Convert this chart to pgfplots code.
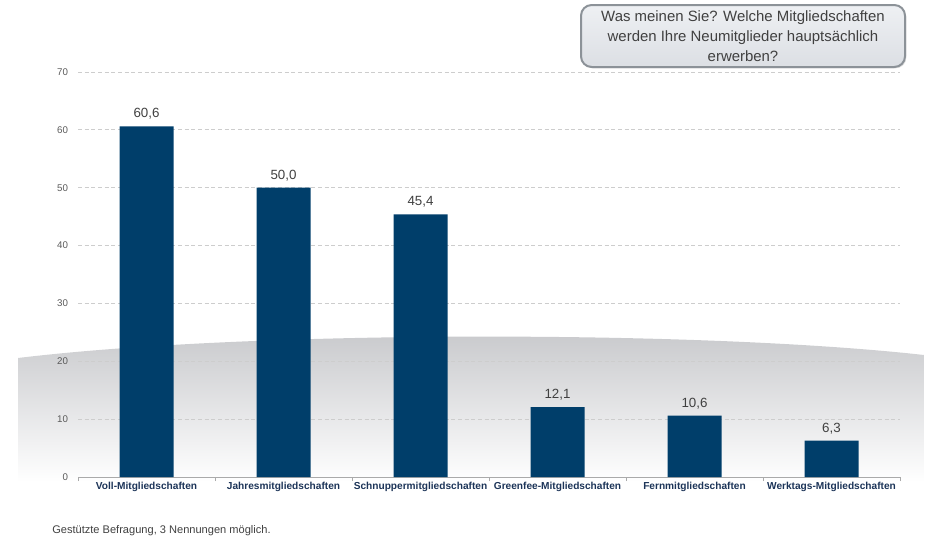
\documentclass[border=0pt]{standalone}
\usepackage{pgfplots}
\pgfplotsset{compat=1.18}
\usepackage{fontspec}
\setmainfont{Liberation Sans}
\usetikzlibrary{shadows}
\definecolor{barblue}{RGB}{0,62,106}
\definecolor{lblblue}{RGB}{28,52,88}
\definecolor{txtgray}{RGB}{64,64,64}
\definecolor{tickgray}{RGB}{90,90,90}
\definecolor{gridgray}{RGB}{205,205,205}
\definecolor{axgray}{RGB}{170,170,170}
\definecolor{shadegray}{RGB}{200,201,204}
\definecolor{boxborder}{RGB}{140,146,152}
\definecolor{boxtop}{RGB}{238,240,243}
\definecolor{boxbot}{RGB}{220,223,228}
\begin{document}
\begin{tikzpicture}[x=0.75pt,y=-0.75pt]
\useasboundingbox (0,0) rectangle (928,539);
\shade[top color=shadegray, bottom color=white] (18,482) -- (18,358) .. controls (250,330) and (700,330) .. (924,355) -- (924,482) -- cycle;
\begin{axis}[
  at={(58.5pt,-357.75pt)}, anchor=south west,
  scale only axis, width=616.5pt, height=303.75pt,
  xmin=-0.5, xmax=5.5, ymin=0, ymax=70,
  ytick={0,10,...,70},
  xtick={0,...,5},
  xticklabels={Voll-Mitgliedschaften,Jahresmitgliedschaften,Schnuppermitgliedschaften,Greenfee-Mitgliedschaften,Fernmitgliedschaften,Werktags-Mitgliedschaften},
  axis x line*=bottom, axis y line*=left,
  x axis line style={-, draw=axgray},
  y axis line style={draw=none},
  ymajorgrids,
  grid style={gridgray, dash pattern=on 3pt off 2pt, line width=0.6pt},
  major tick length=0pt,
  extra x ticks={-0.5,0.5,1.5,2.5,3.5,4.5,5.5},
  extra x tick labels={},
  extra x tick style={major tick length=3pt, tick align=outside, tick style={draw=axgray}},
  /pgf/number format/assume math mode=true,
  y tick label style={font=\fontsize{7.3}{8}\selectfont, text=tickgray, xshift=-4pt},
  x tick label style={font=\bfseries\fontsize{7.6}{9}\selectfont, text=lblblue},
  ybar, bar width=40.5pt,
  nodes near coords={\pgfmathprintnumber[fixed,fixed zerofill,precision=1,use comma]{\pgfplotspointmeta}},
  every node near coord/.append style={font=\fontsize{10}{11}\selectfont, text=txtgray, yshift=1.5pt},
]
\addplot[fill=barblue, draw=none] coordinates {(0,60.6) (1,50.0) (2,45.4) (3,12.1) (4,10.6) (5,6.3)};
\end{axis}
\node[draw=boxborder, line width=1.5pt, rounded corners=8pt, top color=boxtop, bottom color=boxbot,
  drop shadow={opacity=0.25, shadow xshift=1pt, shadow yshift=-1pt},
  minimum width=243pt, minimum height=46.5pt, align=center, inner sep=0pt,
  font=\fontsize{11.2}{15.2}\selectfont, text=txtgray] at (743,36)
  {Was meinen Sie? Welche Mitgliedschaften\\werden Ihre Neumitglieder hauptsächlich\\erwerben?};
\node[anchor=base west, inner sep=0pt, font=\fontsize{8.3}{10}\selectfont, text=txtgray] at (52,533) {Gestützte Befragung, 3 Nennungen möglich.};
\end{tikzpicture}
\end{document}
